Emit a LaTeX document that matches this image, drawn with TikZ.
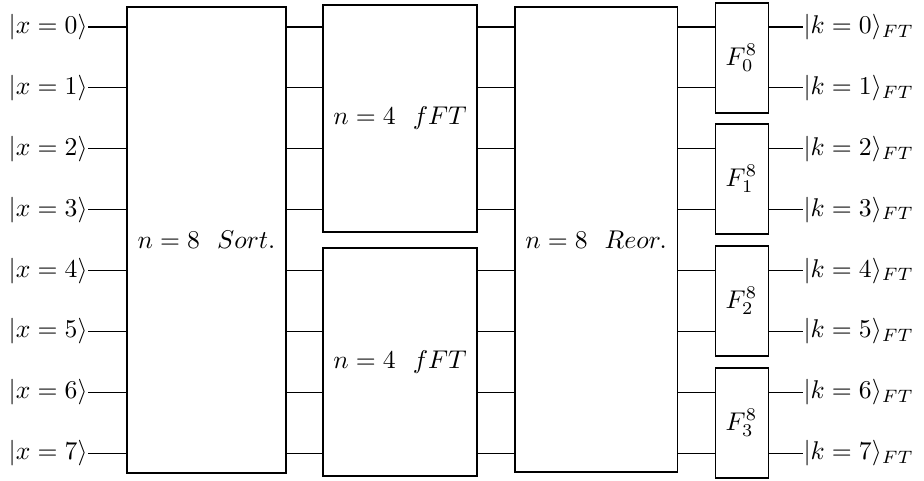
\documentclass[tikz,border=0pt]{standalone}
\begin{document}
\begin{tikzpicture}[x=0.39pt,y=-0.39pt,
  box/.style={draw, rectangle, inner sep=0pt, line width=0.4pt},
  lbl/.style={inner sep=0pt},
  wire/.style={line width=0.4pt}]
\def\pxu{0.39pt}
\useasboundingbox (0,0) rectangle (924,480);
% main boxes
\node[box, minimum width=159*\pxu, minimum height=466*\pxu] (sort) at (206.5,240) {$n=8\ \ Sort.$};
\node[box, minimum width=154*\pxu, minimum height=227*\pxu] (fftA) at (400,118.5) {$n=4\ \ fFT$};
\node[box, minimum width=154*\pxu, minimum height=228*\pxu] (fftB) at (400,362) {$n=4\ \ fFT$};
\node[box, minimum width=162*\pxu, minimum height=465*\pxu] (reor) at (596,239.5) {$n=8\ \ Reor.$};
\foreach \j/\c in {0/58,1/179,2/301,3/423}{
  \node[box, minimum width=53*\pxu, minimum height=110*\pxu] (F\j) at (741.5,\c) {$F^{8}_{\j}$};
}
% wire rows, labels and connectors
\foreach \i in {0,...,7}{
  \pgfmathsetmacro\yy{27+60.9*\i}
  \coordinate (w\i) at (0,\yy);
  \node[lbl, anchor=base east] (in\i) at (88,\yy+6.4) {$|x=\i\rangle$};
  \node[lbl, anchor=base west] (out\i) at (803,\yy+6.4) {$|k=\i\rangle_{FT}$};
  \draw[wire] (in\i.east |- w\i) -- (sort.west |- w\i);
  \pgfmathtruncatemacro\f{int(\i/2)}
  \draw[wire] (F\f.east |- w\i) -- (out\i.west |- w\i);
  \draw[wire] (reor.east |- w\i) -- (F\f.west |- w\i);
}
\foreach \i in {0,...,3}{
  \draw[wire] (sort.east |- w\i) -- (fftA.west |- w\i);
  \draw[wire] (fftA.east |- w\i) -- (reor.west |- w\i);
}
\foreach \i in {4,...,7}{
  \draw[wire] (sort.east |- w\i) -- (fftB.west |- w\i);
  \draw[wire] (fftB.east |- w\i) -- (reor.west |- w\i);
}
\end{tikzpicture}
\end{document}
